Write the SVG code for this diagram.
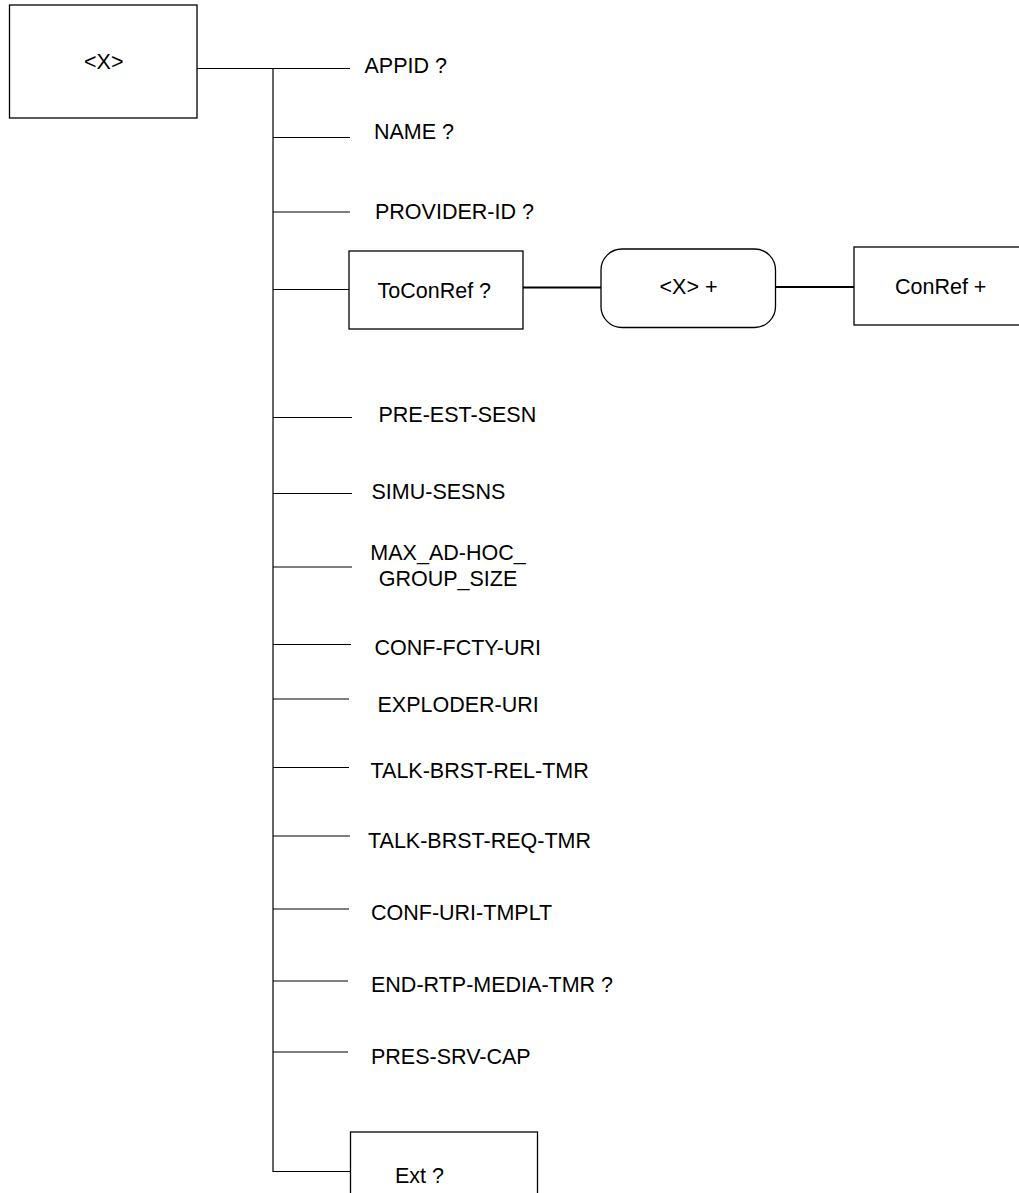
<svg xmlns="http://www.w3.org/2000/svg" width="1019" height="1193" viewBox="0 0 1019 1193">
<style>
text{font-family:"Liberation Sans",Arial,sans-serif;font-size:21.5px;fill:#000}
.box{fill:#fff;stroke:#000;stroke-width:1.3}
.ln{stroke:#000;stroke-width:1.2;fill:none}
.lnb{stroke:#000;stroke-width:2;fill:none}
.c{text-anchor:middle}
</style>
<rect width="1019" height="1193" fill="#fff"/>
<g id="connectors">
<path class="ln" d="M197 68.5H350M273 68.5V1171.5H350"/>
<path class="ln" d="M273 137.5H350M273 212H350M273 289.5H349"/>
<path class="lnb" d="M523 287.5H601M775 287H854"/>
<path class="ln" d="M273 417.5H352M273 493.5H352M273 567H352M273 644.5H351M273 699H349M273 767.5H349M273 836H350M273 909H349M273 981H348M273 1052H348"/>
</g>
<g id="root"><rect class="box" x="9.5" y="5" width="187.5" height="113"/><text x="84" y="69">&lt;X&gt;</text></g>
<g id="appid"><text x="364.5" y="73">APPID ?</text></g>
<g id="name"><text x="374" y="139">NAME ?</text></g>
<g id="provider"><text x="375" y="219">PROVIDER-ID ?</text></g>
<g id="toconref"><rect class="box" x="349" y="251" width="174" height="78"/><text x="377.5" y="297.5">ToConRef ?</text></g>
<g id="xplus"><rect class="box" x="601" y="249" width="174.5" height="78.5" rx="21" ry="21"/><text x="659.5" y="293.5">&lt;X&gt; +</text></g>
<g id="conref"><rect class="box" x="854" y="247" width="175" height="78"/><text x="895" y="293.5">ConRef +</text></g>
<g id="preest"><text x="378.5" y="422">PRE-EST-SESN</text></g>
<g id="simu"><text x="371.5" y="499">SIMU-SESNS</text></g>
<g id="maxadhoc"><text class="c" x="448" y="560">MAX_AD-HOC_</text><text class="c" x="448" y="586">GROUP_SIZE</text></g>
<g id="conffcty"><text x="374.5" y="655">CONF-FCTY-URI</text></g>
<g id="exploder"><text x="377.5" y="711.5">EXPLODER-URI</text></g>
<g id="talkrel"><text x="370.5" y="778">TALK-BRST-REL-TMR</text></g>
<g id="talkreq"><text x="368" y="847.5">TALK-BRST-REQ-TMR</text></g>
<g id="confuri"><text x="371" y="920">CONF-URI-TMPLT</text></g>
<g id="endrtp"><text x="371" y="992">END-RTP-MEDIA-TMR ?</text></g>
<g id="pres"><text x="371" y="1064">PRES-SRV-CAP</text></g>
<g id="ext"><rect class="box" x="350.5" y="1132" width="187" height="80"/><text x="395" y="1183">Ext ?</text></g>
</svg>
